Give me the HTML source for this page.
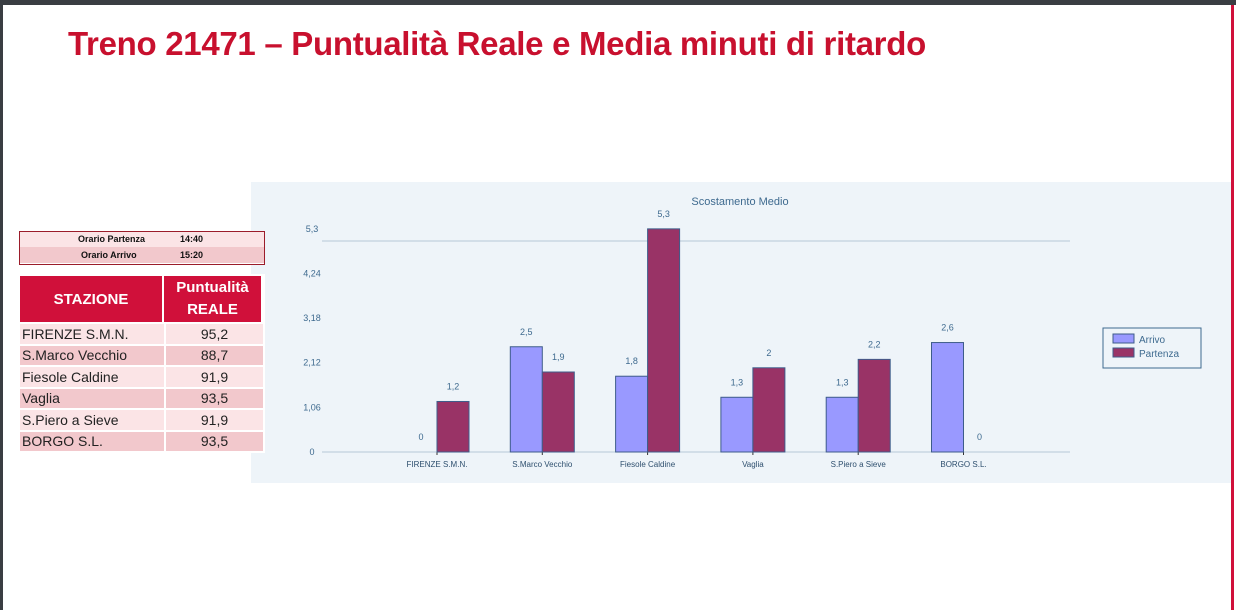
<!DOCTYPE html>
<html><head><meta charset="utf-8"><style>
body{margin:0;width:1236px;height:610px;overflow:hidden;background:#fff;font-family:"Liberation Sans",sans-serif;position:relative}
.abs{position:absolute}
table{border-collapse:separate;border-spacing:2px;font-family:"Liberation Sans",sans-serif}
td{padding:0}
</style></head><body>
<div class="abs" style="left:0;top:0;width:1236px;height:5px;background:#3a3d42"></div>
<div class="abs" style="left:0;top:0;width:3px;height:610px;background:#3a3d42"></div>
<div class="abs" style="left:1231px;top:5px;width:3px;height:605px;background:#d0103a"></div>
<div class="abs" style="left:68px;top:25px;font-size:33px;font-weight:bold;color:#c8102e;letter-spacing:-0.3px">Treno 21471 – Puntualità Reale e Media minuti di ritardo</div>

<div class="abs" style="left:251px;top:182px;width:980px;height:301px;background:#eef4f9"></div>
<svg class="abs" style="left:0;top:0" width="1236" height="610" id="chart" font-family="Liberation Sans, sans-serif"></svg>

<div class="abs" style="left:19px;top:231px;width:244px;height:32px;border:1px solid #9b1c2a;font-size:9px;font-weight:bold;color:#111;background:#fff">
 <div style="height:15px;background:#fbe4e6;line-height:15px;position:relative"><span style="position:absolute;left:58px">Orario Partenza</span><span style="position:absolute;left:160px">14:40</span></div>
 <div style="height:16px;background:#f2c8cc;line-height:16px;position:relative"><span style="position:absolute;left:61px">Orario Arrivo</span><span style="position:absolute;left:160px">15:20</span></div>
</div>

<div class="abs" style="left:18px;top:274px;background:#fff;width:247px">
<table>
<tr><td style="width:142px;height:46px;background:#d0103a;color:#fff;font-weight:bold;font-size:15px;text-align:center">STAZIONE</td><td style="width:97px;background:#d0103a;color:#fff;font-weight:bold;font-size:15px;text-align:center;line-height:22px">Puntualità<br>REALE</td></tr>
</table>
<div id="rows"></div>
</div>

<script>
const stations=["FIRENZE S.M.N.","S.Marco Vecchio","Fiesole Caldine","Vaglia","S.Piero a Sieve","BORGO S.L."];
const puntualita=["95,2","88,7","91,9","93,5","91,9","93,5"];
const arrivo=[0,2.5,1.8,1.3,1.3,2.6];
const partenza=[1.2,1.9,5.3,2,2.2,0];
const yTicks=[0,1.06,2.12,3.18,4.24,5.3];
const yTickLabels=["0","1,06","2,12","3,18","4,24","5,3"];

const rows=document.getElementById('rows');
let html='<table style="margin-top:-2px">';
stations.forEach((s,i)=>{const bg=i%2?'#f2c8cc':'#fbe4e6';
html+=`<tr><td style="width:140px;height:19.5px;padding:0 2px;background:${bg};font-size:14px;color:#222">${s}</td><td style="width:97px;background:${bg};font-size:14px;color:#222;text-align:center">${puntualita[i]}</td></tr>`;});
rows.innerHTML=html+'</table>';

const svg=document.getElementById('chart');const NS='http://www.w3.org/2000/svg';
function mk(t,a,txt){const e=document.createElementNS(NS,t);for(const k in a)e.setAttribute(k,a[k]);if(txt!==undefined)e.textContent=txt;svg.appendChild(e);return e;}
const y0=452,py=42.1;const y=v=>y0-v*py;
const x=i=>437+i*105.3;const bw=32;
let e=mk('text',{x:740,y:205,'font-size':11,fill:'#3e6a8f','text-anchor':'middle'},'Scostamento Medio');

e=mk('line',{x1:322,x2:1070,y1:241,y2:241,stroke:'#b7c7d6'});

e=mk('line',{x1:322,x2:1070,y1:y0,y2:y0,stroke:'#b7c7d6'});

yTicks.forEach((t,i)=>{const el=mk('text',{x:312,y:y(t)+3,'font-size':9,fill:'#3e6a8f','text-anchor':'middle'},yTickLabels[i]);
});
const fmt=v=>String(v).replace('.',',');
stations.forEach((s,i)=>{const c=x(i);
 let t=mk('line',{x1:c,x2:c,y1:y0,y2:y0+3,stroke:'#333'});
 
 t=mk('text',{x:c,y:467,'font-size':8,fill:'#2e4f6e','text-anchor':'middle'},s);
 
 if(arrivo[i]>0){const b=mk('rect',{x:c-bw,y:y(arrivo[i]),width:bw,height:arrivo[i]*py,fill:'#9999ff',stroke:'#3e5c8a'});
 }
 let l=mk('text',{x:c-bw/2,y:y(arrivo[i])-12,'font-size':9,fill:'#3e6a8f','text-anchor':'middle'},fmt(arrivo[i]));
 
 if(partenza[i]>0){const b=mk('rect',{x:c,y:y(partenza[i]),width:bw,height:partenza[i]*py,fill:'#993366',stroke:'#3e5c8a'});
 }
 l=mk('text',{x:c+bw/2,y:y(partenza[i])-12,'font-size':9,fill:'#3e6a8f','text-anchor':'middle'},fmt(partenza[i]));
 
});
e=mk('rect',{x:1103,y:328,width:98,height:40,fill:'none',stroke:'#3e6a8f'});

e=mk('rect',{x:1113,y:334,width:21,height:9,fill:'#9999ff',stroke:'#3e5c8a'});

e=mk('text',{x:1139,y:343,'font-size':10,fill:'#3e6a8f'},'Arrivo');

e=mk('rect',{x:1113,y:348,width:21,height:9,fill:'#993366',stroke:'#3e5c8a'});

e=mk('text',{x:1139,y:357,'font-size':10,fill:'#3e6a8f'},'Partenza');

</script>
</body></html>
